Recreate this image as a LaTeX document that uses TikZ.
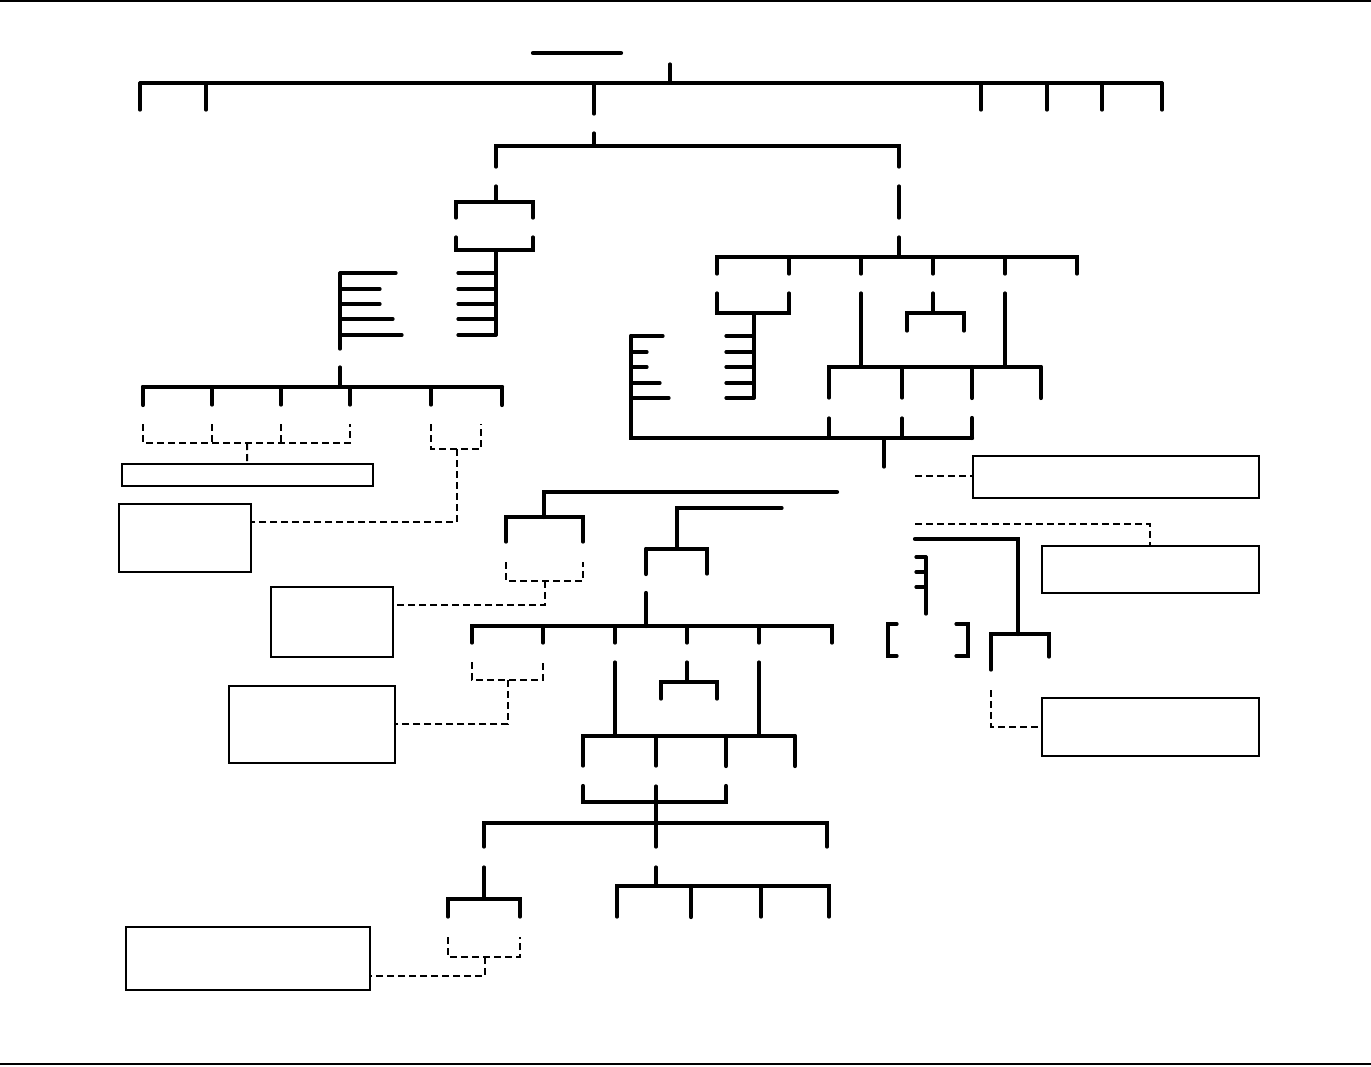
\documentclass[tikz,border=0pt]{standalone}
\usepackage{tikz}
\usetikzlibrary{calc,positioning}

\begin{document}
\begin{tikzpicture}[x=1pt,y=-1pt,line cap=round,line join=miter,
  bar/.style={line width=3.2pt},
  heavy/.style={line width=4.2pt},
  link/.style={line width=2pt,dash pattern=on 7pt off 4pt,line cap=butt},
  panel/.style={draw,line width=1.5pt,inner sep=0pt,anchor=north west}]
 \useasboundingbox (0,0) rectangle (1371,1066);
 \draw[line width=1.8pt] (0,1)--(1371,1);
 \draw[line width=1.8pt] (0,1064)--(1371,1064);
 % empty note boxes
 \node[panel,minimum width=251pt,minimum height=22pt] (groupbox) at (121,463) {};
 \node[panel,minimum width=132pt,minimum height=68pt] (pairbox) at (118,503) {};
 \node[panel,minimum width=122pt,minimum height=70pt] (leftbox) at (270,586) {};
 \node[panel,minimum width=166pt,minimum height=77pt] (midbox) at (228,685) {};
 \node[panel,minimum width=244pt,minimum height=63pt] (lowbox) at (125,926) {};
 \node[panel,minimum width=286pt,minimum height=42pt] (topnote) at (972,455) {};
 \node[panel,minimum width=217pt,minimum height=47pt] (sidenote) at (1041,545) {};
 \node[panel,minimum width=217pt,minimum height=58pt] (basenote) at (1041,697) {};
 % top level
 \draw[heavy] (533,53)--(621,53);
 \draw[bar] (670,64)--(670,83);
 \draw[bar] (140,83)--(1162,83);
 \foreach \x in {140,206,981,1047,1102,1162}
  \draw[bar] (\x,83)--(\x,110);
 \draw[bar] (594,83)--(594,114);
 \draw[bar] (594,133)--(594,146);
 \draw[bar] (496,167)--(496,146)--(899,146)--(899,167);
 \draw[bar] (899,186)--(899,218);
 \draw[bar] (899,237)--(899,257);
 % left branch
 \draw[bar] (496,186)--(496,202);
 \draw[bar] (456,218)--(456,202)--(533,202)--(533,218);
 \draw[bar] (456,237)--(456,250)--(533,250)--(533,237);
 \draw[bar] (496,250)--(496,335);
 \foreach \y in {273,289,304,319,335}
  \draw[bar] (458,\y)--(496,\y);
 \draw[bar] (340,273)--(340,349);
 \foreach \y/\len in {273/396,289/380,304/380,319/393,335/402}
  \draw[bar] (340,\y)--(\len,\y);
 \draw[bar] (340,367)--(340,387);
 \draw[heavy] (143,387)--(502,387);
 \foreach \x in {212,281,350,431}
  \draw[bar] (\x,387)--(\x,405);
 \draw[heavy] (143,387)--(143,405);
 \draw[heavy] (502,387)--(502,405);
 \draw[link] (143,424)--(143,443)--(350,443)--(350,424);
 \draw[link] (212,424)--(212,443);
 \draw[link] (281,424)--(281,443);
 \draw[link] (247,443)--(groupbox.north);
 \draw[link] (431,424)--(431,449)--(481,449)--(481,424);
 \coordinate (pairturn) at (457,522);
 \draw[link] (457,449)--(pairturn)--(pairturn -| pairbox.east);
 % right branch
 \draw[bar] (717,274)--(717,257)--(1077,257)--(1077,274);
 \foreach \x in {789,861,933,1005}
  \draw[bar] (\x,257)--(\x,274);
 \draw[bar] (717,293)--(717,313)--(789,313)--(789,293);
 \draw[bar] (754,313)--(754,398);
 \foreach \y in {336,352,367,383,398}
  \draw[bar] (726,\y)--(754,\y);
 \draw[bar] (861,293)--(861,367);
 \draw[bar] (1005,293)--(1005,367);
 \draw[bar] (933,293)--(933,313);
 \draw[bar] (907,331)--(907,313)--(964,313)--(964,331);
 \draw[bar] (829,398)--(829,367)--(1041,367);
 \draw[bar] (902,367)--(902,398);
 \draw[heavy] (972,367)--(972,398);
 \draw[heavy] (1041,367)--(1041,398);
 \draw[bar] (829,418)--(829,438);
 \draw[bar] (902,418)--(902,438);
 \draw[heavy] (972,418)--(972,438);
 \draw[heavy] (631,336)--(631,438)--(972,438);
 \foreach \y/\len in {336/663,352/647,367/647,383/660,398/669}
  \draw[bar] (631,\y)--(\len,\y);
 \draw[bar] (884,438)--(884,467);
 % notes on the right
 \coordinate (topfeed) at (915,476);
 \draw[link] (topfeed)--(topnote.west |- topfeed);
 \draw[link] (915,524)-|(sidenote.north);
 \draw[heavy] (915,539)--(1018,539)--(1018,634);
 \draw[bar] (991,670)--(991,634)--(1049,634)--(1049,657);
 \draw[bar] (926,557)--(926,614);
 \foreach \y in {557,572,587}
  \draw[bar] (916,\y)--(926,\y);
 \draw[bar] (897,624)--(888,624)--(888,656)--(897,656);
 \draw[bar] (956,624)--(968,624)--(968,656)--(956,656);
 \draw[link] (991,690)|-(basenote.west);
 % middle block
 \draw[heavy] (837,492)--(544,492)--(544,517);
 \draw[bar] (506,542)--(506,517)--(583,517)--(583,542);
 \draw[link] (506,562)--(506,581)--(583,581)--(583,562);
 \coordinate (leftturn) at (545,605);
 \draw[link] (545,581)--(leftturn)--(leftturn -| leftbox.east);
 \draw[bar] (782,508)--(677,508)--(677,549);
 \draw[bar] (646,549)--(707,549)--(707,574);
 \draw[heavy] (646,549)--(646,574);
 \draw[heavy] (646,593)--(646,626);
 \draw[bar] (472,643)--(472,626)--(832,626)--(832,643);
 \foreach \x in {543,615,687,759}
  \draw[bar] (\x,626)--(\x,643);
 \draw[link] (472,662)--(472,680)--(543,680)--(543,662);
 \draw[link] (508,680)|-(midbox.east);
 \draw[bar] (615,662)--(615,736);
 \draw[bar] (759,662)--(759,736);
 \draw[bar] (687,662)--(687,682);
 \draw[bar] (661,699)--(661,682)--(717,682)--(717,699);
 \draw[bar] (583,766)--(583,736)--(795,736);
 \draw[bar] (656,736)--(656,766);
 \draw[heavy] (726,736)--(726,766);
 \draw[heavy] (795,736)--(795,766);
 \draw[heavy] (583,786)--(583,802)--(726,802)--(726,786);
 \draw[bar] (656,786)--(656,847);
 \draw[bar] (484,847)--(484,823)--(827,823)--(827,847);
 \draw[bar] (484,867)--(484,899);
 \draw[bar] (448,917)--(448,899)--(520,899)--(520,917);
 \draw[bar] (656,867)--(656,886);
 \draw[bar] (617,917)--(617,886)--(829,886)--(829,917);
 \draw[heavy] (691,886)--(691,917);
 \draw[bar] (761,886)--(761,917);
 \draw[link] (448,937)--(448,957)--(520,957)--(520,937);
 \coordinate (lowturn) at (485,976);
 \draw[link] (485,957)--(lowturn)--(lowturn -| lowbox.east);
\end{tikzpicture}
\end{document}
